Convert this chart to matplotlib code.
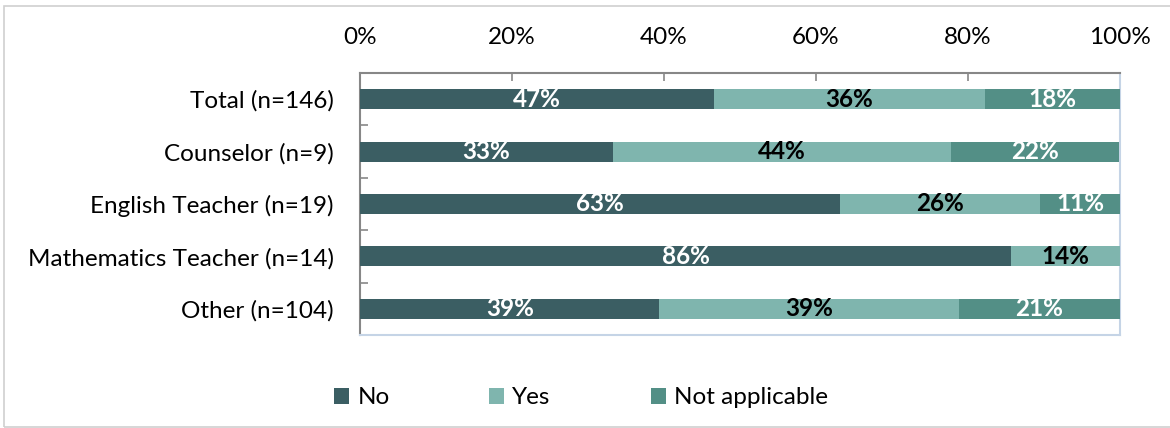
import matplotlib
matplotlib.use("Agg")
import matplotlib.pyplot as plt
from matplotlib.patches import Rectangle, Patch
import numpy as np

plt.rcParams['font.family'] = ['Lato', 'DejaVu Sans']

categories = ["Total (n=146)", "Counselor (n=9)", "English Teacher (n=19)",
              "Mathematics Teacher (n=14)", "Other (n=104)"]
series_names = ["No", "Yes", "Not applicable"]
no_vals = [46.6, 33.3, 63.2, 85.7, 39.4]
yes_vals = [35.6, 44.4, 26.3, 14.3, 39.4]
na_vals = [17.8, 22.2, 10.53, 0.0, 21.2]
x_ticks = [0, 20, 40, 60, 80, 100]
x_tick_labels = ["0%", "20%", "40%", "60%", "80%", "100%"]

colors = ["#3b5e63", "#7fb5ae", "#538f86"]
label_colors = ["white", "black", "white"]
FS = 17.5

fig = plt.figure(figsize=(11.7, 4.28), dpi=100)
ax = fig.add_axes([360/1170, 1-335/428, 760/1170, 262/428])

y = np.arange(len(categories))
left = np.zeros(len(categories))
for vals, c, lc, name in zip([no_vals, yes_vals, na_vals], colors, label_colors, series_names):
    vals = np.array(vals)
    ax.barh(y, vals, left=left, height=0.38, color=c, label=name, zorder=3)
    for yi, v, l in zip(y, vals, left):
        if v > 0:
            ax.text(l + v/2, yi, f"{v:.0f}%", ha='center', va='center', color=lc,
                    fontsize=FS, fontweight='bold', zorder=4)
    left = left + vals

ax.set_xlim(0, 100)
ax.set_ylim(len(categories) - 0.5, -0.5)
ax.xaxis.tick_top()
ax.set_xticks(x_ticks)
ax.set_xticklabels(x_tick_labels, fontsize=FS)
ax.tick_params(axis='x', direction='in', length=6, width=1.2, color='#878787', pad=18)
ax.set_yticks(y)
ax.set_yticklabels(categories, fontsize=FS)
ax.tick_params(axis='y', which='major', length=0, pad=19)
ax.set_yticks(np.arange(-0.5, len(categories), 1.0), minor=True)
ax.tick_params(axis='y', which='minor', direction='in', length=6, width=1.2, color='#878787')

for s in ['top', 'left']:
    ax.spines[s].set_color('#878787')
    ax.spines[s].set_linewidth(1.5)
for s in ['right', 'bottom']:
    ax.spines[s].set_color('#c5d4e6')
    ax.spines[s].set_linewidth(1.5)

handles = [Patch(facecolor=c, edgecolor='none', label=n) for c, n in zip(colors, series_names)]
fig.legend(handles=handles, loc='center', bbox_to_anchor=(581/1170, 1-398/428), ncol=3,
           frameon=False, fontsize=FS, handlelength=0.62, handleheight=0.62,
           handletextpad=0.33, columnspacing=4.1, borderpad=0, borderaxespad=0)

fig.patches.append(Rectangle((4/1170, 1/428), 1.2, 1-7/428, transform=fig.transFigure,
                             fill=False, edgecolor='#d0d0d0', linewidth=1.2))

fig.savefig("out.png", dpi=100)
